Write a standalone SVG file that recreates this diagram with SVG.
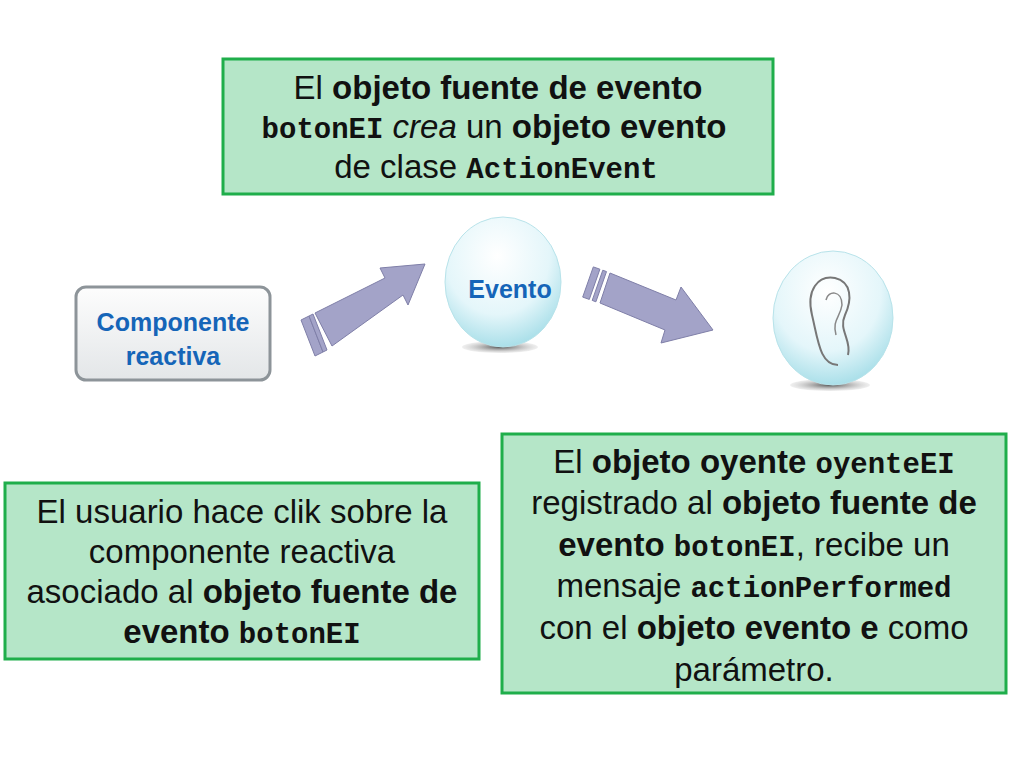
<svg xmlns="http://www.w3.org/2000/svg" width="1024" height="768" viewBox="0 0 1024 768">
<defs>
<style>
.box{fill:#b5e6c8;stroke:#1fae4b;stroke-width:3}
.t{font-family:"Liberation Sans",Arial,sans-serif;font-size:33px;fill:#111;text-anchor:middle}
.b{font-weight:bold}
.m{font-family:"Liberation Mono","Courier New",monospace;font-weight:bold;font-size:29px}
.arr{fill:#a3a3c8;stroke:#7f7fa8;stroke-width:1}
.lbl{font-family:"Liberation Sans",Arial,sans-serif;font-weight:bold;fill:#1565b8;text-anchor:middle}
</style>
<radialGradient id="sph" cx="0.45" cy="0.3" r="0.75">
<stop offset="0" stop-color="#ffffff"/><stop offset="0.6" stop-color="#e4f6fa"/><stop offset="1" stop-color="#9fdbe6"/>
</radialGradient>
<linearGradient id="btn" x1="0" y1="0" x2="0" y2="1">
<stop offset="0" stop-color="#fdfdfd"/><stop offset="1" stop-color="#e3e6e8"/>
</linearGradient>
<radialGradient id="shd"><stop offset="0" stop-color="#555"/><stop offset="1" stop-color="#ccc" stop-opacity="0.3"/></radialGradient>
</defs>
<rect width="1024" height="768" fill="#fff"/>

<g id="comp">
<rect x="76" y="287" width="194" height="93" rx="10" fill="url(#btn)" stroke="#8d9499" stroke-width="3"/>
<text class="lbl" x="173" y="331" font-size="25">Componente</text>
<text class="lbl" x="173" y="365" font-size="25">reactiva</text>
</g>

<g id="connectors">
<g id="a1">
<polygon class="arr" points="315,313 385,278 380,268 425,264 408,305 403,295 332,346"/>
<polygon class="arr" points="301,320 309,316 323,352 315,356"/>
<polygon class="arr" points="309,316 313,314 327,350 323,352"/>
</g>
<g id="a2">
<polygon class="arr" points="610,273 676,300 681,287 713,330 661,343 665,330 600,303"/>
<polygon class="arr" points="606.5,271.6 602.8,270.2 592.2,300.4 595.9,301.8"/>
<polygon class="arr" points="599.9,269.2 593.3,266.9 582.7,297.1 589.3,299.4"/>
</g>
</g>

<g id="evento">
<ellipse cx="500" cy="347" rx="38" ry="6" fill="url(#shd)"/>
<ellipse cx="503" cy="282" rx="58" ry="65" fill="url(#sph)" stroke="#b8e3ea" stroke-width="1"/>
<text class="lbl" x="510" y="298" font-size="25">Evento</text>
</g>

<g id="oyente">
<ellipse cx="830" cy="385" rx="40" ry="6" fill="url(#shd)"/>
<ellipse cx="833" cy="318" rx="60" ry="67" fill="url(#sph)" stroke="#b8e3ea" stroke-width="1"/>
<path d="M838,365 C820,365 818,340 812,315 C806,290 818,275 835,278 C852,282 852,300 845,315 C838,330 852,340 848,355" fill="none" stroke="#777" stroke-width="2"/>
<path d="M826,300 C828,290 842,290 842,305 C840,318 832,320 836,335" fill="none" stroke="#888" stroke-width="1.5"/>
</g>

<g id="top">
<rect class="box" x="223" y="59" width="550" height="135"/>
<text class="t" x="498" y="99">El <tspan class="b">objeto fuente de evento</tspan></text>
<text class="t" x="494" y="138"><tspan class="m">botonEI</tspan>  <tspan font-style="italic">crea</tspan> un <tspan class="b">objeto evento</tspan></text>
<text class="t" x="496" y="178">de clase <tspan class="m">ActionEvent</tspan></text>
</g>

<g id="left">
<rect class="box" x="5" y="483" width="474" height="176"/>
<text class="t" x="242" y="523">El usuario hace clik sobre la</text>
<text class="t" x="242" y="563">componente reactiva</text>
<text class="t" x="242" y="603">asociado al <tspan class="b">objeto fuente de</tspan></text>
<text class="t" x="242" y="643"><tspan class="b">evento</tspan> <tspan class="m">botonEI</tspan></text>
</g>

<g id="right">
<rect class="box" x="502" y="434" width="504" height="259"/>
<text class="t" x="754" y="473">El <tspan class="b">objeto oyente</tspan> <tspan class="m">oyenteEI</tspan></text>
<text class="t" x="754" y="514">registrado al <tspan class="b">objeto fuente de</tspan></text>
<text class="t" x="754" y="556"><tspan class="b">evento</tspan> <tspan class="m">botonEI</tspan>,  recibe un</text>
<text class="t" x="754" y="597">mensaje <tspan class="m">actionPerformed</tspan></text>
<text class="t" x="754" y="639">con el <tspan class="b">objeto evento e</tspan> como</text>
<text class="t" x="754" y="681">parámetro.</text>
</g>
</svg>
